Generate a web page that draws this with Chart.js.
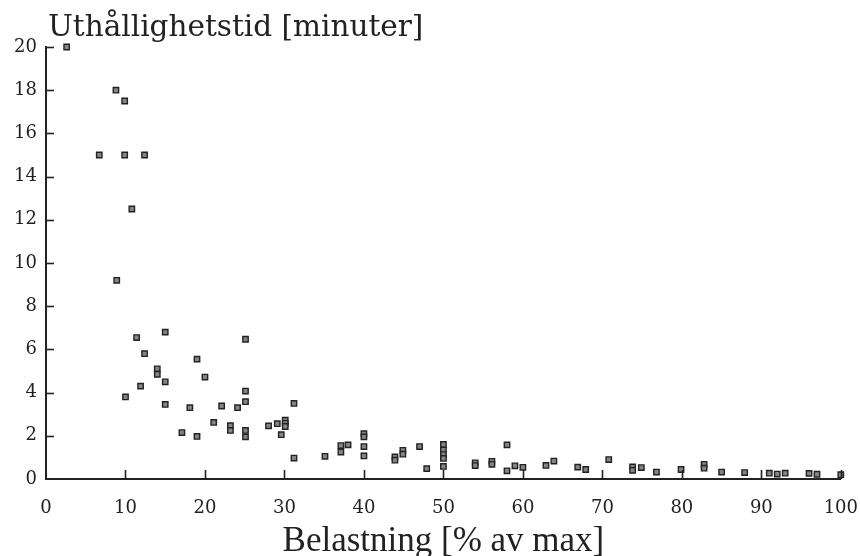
<!DOCTYPE html>
<html><head><meta charset="utf-8">
<script src="https://cdn.jsdelivr.net/npm/chart.js@4/dist/chart.umd.min.js"></script>
<style>html,body{margin:0;padding:0;background:#fff}#wrap{width:860px;height:556px;position:relative}</style>
</head><body><div id="wrap"><canvas id="c"></canvas></div>
<script>
const loadPercent = [2.6,6.7,8.8,8.9,9.9,9.9,10.0,10.8,11.4,11.9,12.4,12.4,14.0,14.0,15.0,15.0,15.0,17.1,18.1,19.0,19.0,
  20.0,21.1,22.1,23.2,23.2,24.1,25.1,25.1,25.1,25.1,25.1,28.0,29.1,29.6,30.1,30.1,30.1,31.2,31.2,
  35.1,37.1,37.1,38.0,40.0,40.0,40.0,40.0,43.9,43.9,44.9,44.9,47.0,47.9,50.0,50.0,50.0,50.0,50.0,
  54.0,54.0,56.1,56.1,58.0,58.0,59.0,60.0,62.9,63.9,66.9,67.9,70.8,73.8,73.8,74.9,76.8,79.9,82.8,82.8,
  85.0,87.9,91.0,92.0,93.0,96.0,97.0,100.0];
const enduranceMinutes = [20.0,15.0,18.0,9.2,17.5,15.0,3.8,12.5,6.55,4.3,15.0,5.8,5.1,4.85,6.8,4.5,3.45,2.15,3.3,5.55,1.97,
  4.72,2.62,3.38,2.47,2.25,3.3,6.47,4.07,3.58,2.25,1.95,2.46,2.56,2.05,2.72,2.58,2.43,3.5,0.97,
  1.05,1.55,1.25,1.58,2.1,1.95,1.5,1.07,1.02,0.87,1.33,1.15,1.5,0.48,1.6,1.34,1.13,0.95,0.58,
  0.75,0.62,0.82,0.68,1.58,0.38,0.61,0.54,0.63,0.83,0.55,0.44,0.9,0.56,0.40,0.53,0.32,0.44,0.68,0.5,
  0.32,0.30,0.27,0.23,0.27,0.26,0.22,0.2];
const xTickValues = [0,10,20,30,40,50,60,70,80,90,100];
const yTickValues = [0,2,4,6,8,10,12,14,16,18,20];
const xTitle = 'Belastning [% av max]';
const yTitle = 'Uthållighetstid [minuter]';

const ink = '#222';
const points = loadPercent.map((x,i)=>({x, y: enduranceMinutes[i]}));

const innerTicks = {
  id: 'innerTicks',
  afterDraw(chart) {
    const ctx = chart.ctx, xs = chart.scales.x, ys = chart.scales.y;
    ctx.save();
    ctx.strokeStyle = ink; ctx.lineWidth = 1.6;
    xTickValues.forEach(v => {
      if (v === 0) return;
      const px = Math.round(xs.getPixelForValue(v)) + 0.5;
      ctx.beginPath(); ctx.moveTo(px, ys.bottom); ctx.lineTo(px, ys.bottom - 9); ctx.stroke();
    });
    yTickValues.forEach(v => {
      if (v === 0) return;
      const py = Math.round(ys.getPixelForValue(v)) + 0.5;
      ctx.beginPath(); ctx.moveTo(xs.left, py); ctx.lineTo(xs.left + 8, py); ctx.stroke();
    });
    ctx.fillStyle = ink;
    ctx.font = '29.5px "DejaVu Serif"';
    ctx.textBaseline = 'alphabetic';
    ctx.textAlign = 'left';
    ctx.fillText(yTitle, 48, 36);
    ctx.restore();
  }
};

new Chart(document.getElementById('c'), {
  type: 'scatter',
  data: { datasets: [{
    data: points,
    pointStyle: 'rect',
    radius: 3.8,
    hoverRadius: 3.8,
    backgroundColor: '#858585',
    borderColor: '#222',
    borderWidth: 1.4,
    clip: false
  }]},
  options: {
    responsive: true,
    maintainAspectRatio: false,
    animation: false,
    events: [],
    layout: { padding: { top: 47, right: 0, left: 0, bottom: 0 } },
    plugins: { legend: { display: false }, tooltip: { enabled: false }, title: { display: false } },
    scales: {
      x: {
        type: 'linear', min: 0, max: 100,
        afterFit(s) { s.height = 77; },
        afterBuildTicks(s) { s.ticks = xTickValues.map(v => ({value: v})); },
        grid: { display: false, drawTicks: true, tickLength: 17 },
        border: { display: true, color: ink, width: 2 },
        ticks: { autoSkip: false, maxRotation: 0, padding: 2, color: ink, font: { family: 'DejaVu Serif', size: 18 } },
        title: { display: true, text: xTitle, color: ink, font: { family: 'Liberation Serif', size: 35, lineHeight: 0.82 }, padding: { top: 0, bottom: 0 } }
      },
      y: {
        type: 'linear', min: 0, max: 20,
        afterFit(s) { s.width = 46; },
        afterBuildTicks(s) { s.ticks = yTickValues.map(v => ({value: v})); },
        grid: { display: false, drawTicks: false },
        border: { display: true, color: ink, width: 2 },
        ticks: { autoSkip: false, padding: 9, color: ink, font: { family: 'DejaVu Serif', size: 18 } }
      }
    }
  },
  plugins: [innerTicks]
});
</script>
</body></html>
